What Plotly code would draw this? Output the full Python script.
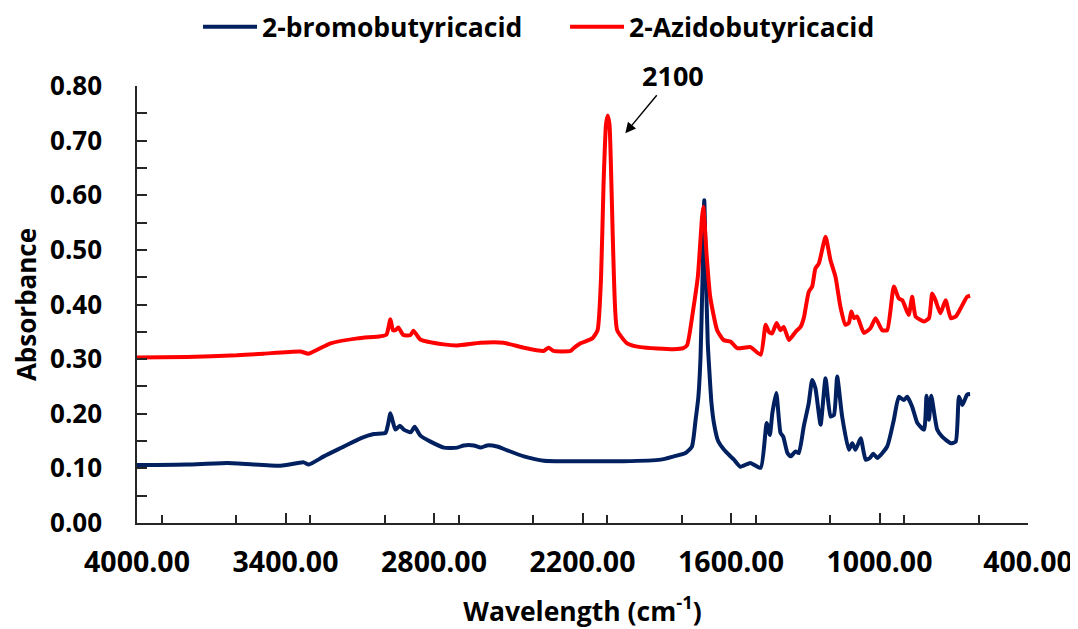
import plotly.graph_objects as go

# 2-bromobutyric acid (blue)
bromo_wn = [4000, 3798, 3635, 3420, 3326, 3306, 3245, 3164, 3097, 3043, 2996, 2986, 2976, 2966, 2956,
            2938, 2922, 2894, 2878, 2855, 2814, 2760, 2706, 2680, 2639, 2612, 2585, 2545, 2504, 2437,
            2356, 2168, 2035, 1884, 1831, 1784, 1758, 1743, 1732, 1723, 1715, 1708, 1701, 1694, 1689,
            1679, 1669, 1652, 1628, 1602, 1588, 1562, 1522, 1480, 1456, 1443, 1433, 1417, 1400, 1389,
            1372, 1359, 1339, 1326, 1306, 1286, 1272, 1259, 1238, 1218, 1198, 1184, 1171, 1151, 1124,
            1110, 1097, 1076, 1056, 1039, 1025, 1009, 969, 942, 922, 902, 888, 868, 847, 820, 810,
            800, 791, 767, 747, 712, 692, 679, 665, 646, 634]
bromo_abs = [0.106, 0.107, 0.110, 0.105, 0.111, 0.107, 0.122, 0.140, 0.155, 0.163, 0.165, 0.180, 0.201, 0.185, 0.171,
             0.178, 0.171, 0.166, 0.176, 0.160, 0.149, 0.138, 0.138, 0.142, 0.142, 0.138, 0.142, 0.140, 0.133, 0.122,
             0.114, 0.113, 0.113, 0.116, 0.122, 0.128, 0.140, 0.189, 0.230, 0.305, 0.450, 0.591, 0.450, 0.330, 0.290,
             0.220, 0.183, 0.150, 0.134, 0.122, 0.116, 0.103, 0.110, 0.101, 0.183, 0.161, 0.201, 0.238, 0.165, 0.158,
             0.128, 0.122, 0.131, 0.128, 0.177, 0.219, 0.262, 0.247, 0.180, 0.265, 0.195, 0.198, 0.268, 0.195, 0.134,
             0.146, 0.134, 0.155, 0.116, 0.119, 0.127, 0.119, 0.140, 0.189, 0.231, 0.225, 0.231, 0.213, 0.183, 0.171, 0.233,
             0.189, 0.233, 0.171, 0.158, 0.146, 0.149, 0.231, 0.216, 0.235, 0.236]

# 2-azidobutyric acid (red)
azido_wn = [4000, 3798, 3597, 3489, 3340, 3307, 3218, 3109, 3016, 2992, 2976, 2966, 2956, 2944, 2924,
            2895, 2883, 2855, 2761, 2706, 2612, 2519, 2439, 2357, 2337, 2317, 2248, 2236, 2208, 2160,
            2139, 2125, 2115, 2105, 2098, 2091, 2082, 2073, 2060, 2020, 1965, 1832, 1793, 1777, 1751,
            1734, 1717, 1712, 1698, 1684, 1656, 1630, 1601, 1575, 1521, 1480, 1460, 1447, 1434, 1416,
            1400, 1387, 1366, 1339, 1319, 1306, 1286, 1272, 1259, 1245, 1218, 1198, 1178, 1158, 1138,
            1124, 1114, 1103, 1090, 1063, 1036, 1016, 989, 969, 942, 922, 908, 882, 868, 854, 820,
            800, 787, 774, 754, 733, 712, 692, 672, 646, 634]
azido_abs = [0.303, 0.304, 0.307, 0.310, 0.314, 0.310, 0.329, 0.338, 0.342, 0.345, 0.373, 0.353, 0.353, 0.358, 0.344,
             0.344, 0.352, 0.336, 0.327, 0.325, 0.330, 0.330, 0.321, 0.315, 0.321, 0.315, 0.315, 0.320, 0.329, 0.338,
             0.353, 0.450, 0.620, 0.730, 0.746, 0.730, 0.600, 0.450, 0.353, 0.329, 0.322, 0.318, 0.320, 0.326, 0.396,
             0.451, 0.560, 0.579, 0.487, 0.414, 0.353, 0.335, 0.332, 0.320, 0.322, 0.308, 0.363, 0.350, 0.347, 0.366,
             0.353, 0.359, 0.335, 0.350, 0.359, 0.375, 0.423, 0.433, 0.466, 0.475, 0.524, 0.481, 0.451, 0.396, 0.363,
             0.366, 0.387, 0.375, 0.378, 0.348, 0.357, 0.375, 0.353, 0.353, 0.433, 0.411, 0.408, 0.381, 0.414, 0.378, 0.369,
             0.375, 0.420, 0.408, 0.384, 0.408, 0.375, 0.378, 0.393, 0.414, 0.416]

series_names = ["2-bromobutyricacid", "2-Azidobutyricacid"]
x_ticks = [4000, 3400, 2800, 2200, 1600, 1000, 400]
y_ticks = [0.0, 0.1, 0.2, 0.3, 0.4, 0.5, 0.6, 0.7, 0.8]

FONT = "Open Sans"
AXIS_COLOR = "#262626"

fig = go.Figure()
fig.add_trace(go.Scatter(x=bromo_wn, y=bromo_abs, mode="lines", name=series_names[0],
                         line=dict(color="#002060", width=4, shape="spline", smoothing=0.5)))
fig.add_trace(go.Scatter(x=azido_wn, y=azido_abs, mode="lines", name=series_names[1],
                         line=dict(color="#FF0000", width=4, shape="spline", smoothing=0.5)))

fig.add_annotation(x=2027, y=0.7135, xref="x", yref="y", text="<b>2100</b>",
                   showarrow=True, ax=48, ay=-58, arrowhead=2, arrowsize=1.5, arrowwidth=1.4,
                   arrowcolor="black", font=dict(family=FONT, size=27, color="black"))

fig.update_layout(
    width=1070, height=621,
    paper_bgcolor="white", plot_bgcolor="white",
    margin=dict(l=129, r=50, t=78, b=106, autoexpand=False),
    font=dict(family=FONT, size=26, color="black", weight="bold"),
    showlegend=True,
    legend=dict(orientation="h", x=0.0685, xanchor="left", y=1.135, yanchor="middle",
                entrywidth=298, itemwidth=54,
                font=dict(family=FONT, size=26.5, color="black", weight="bold")),
    xaxis=dict(range=[4000, 400], tickvals=x_ticks, tickformat=".2f", automargin=False,
               tickfont=dict(family=FONT, size=28.5, color="black", weight="bold"),
               ticklabeloverflow="allow",
               showline=True, linecolor=AXIS_COLOR, linewidth=1.5,
               ticks="inside", ticklen=10, tickwidth=1.5, tickcolor=AXIS_COLOR,
               ticklabelstandoff=13,
               minor=dict(dtick=300, ticks="inside", ticklen=8, tickwidth=1.5, tickcolor=AXIS_COLOR),
               showgrid=False, zeroline=False,
               title=dict(text="Wavelength (cm<sup>-1</sup>)", standoff=23,
                          font=dict(family=FONT, size=26.5, color="black", weight="bold"))),
    yaxis=dict(range=[0, 0.8], tickvals=y_ticks, tickformat=".2f", automargin=False,
               tickfont=dict(family=FONT, size=26, color="black", weight="bold"),
               showline=True, linecolor=AXIS_COLOR, linewidth=1.5,
               ticks="inside", ticklen=10, tickwidth=1.5, tickcolor=AXIS_COLOR,
               ticklabelstandoff=28,
               minor=dict(dtick=0.05, ticks="inside", ticklen=10, tickwidth=1.5, tickcolor=AXIS_COLOR),
               showgrid=False, zeroline=False,
               title=dict(text="Absorbance", standoff=10,
                          font=dict(family=FONT, size=26, color="black", weight="bold"))),
)

fig.write_html("out.html")
